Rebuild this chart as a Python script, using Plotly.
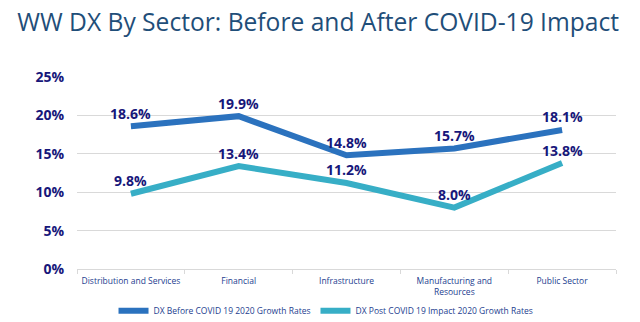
import plotly.graph_objects as go

sectors = [
    "Distribution and Services",
    "Financial",
    "Infrastructure",
    "Manufacturing and<br>Resources",
    "Public Sector",
]
before_covid = [18.6, 19.9, 14.8, 15.7, 18.1]
after_covid = [9.8, 13.4, 11.2, 8.0, 13.8]
series_names = [
    "DX Before COVID 19 2020 Growth Rates",
    "DX Post COVID 19 Impact 2020 Growth Rates",
]
y_ticks = [0, 5, 10, 15, 20, 25]
y_tick_labels = ["0%", "5%", "10%", "15%", "20%", "25%"]

NAVY = "#17177a"
SMALL_TEXT = "#24408f"
BLUE = "#2b72be"
TEAL = "#37aec6"

fig = go.Figure()
for name, vals, color in [
    (series_names[0], before_covid, BLUE),
    (series_names[1], after_covid, TEAL),
]:
    fig.add_trace(go.Scatter(
        x=sectors,
        y=vals,
        name=name,
        mode="lines",
        line=dict(color=color, width=6),
        cliponaxis=False,
    ))
    # value labels above each point
    for cat, v in zip(sectors, vals):
        fig.add_annotation(
            x=cat, y=v, xref="x", yref="y",
            text=f"{v:.1f}%",
            showarrow=False,
            yshift=13,
            font=dict(family="Open Sans", size=14, color=NAVY, weight="bold"),
        )

fig.update_layout(
    width=640,
    height=322,
    margin=dict(l=77, r=24, t=77, b=53),
    paper_bgcolor="white",
    plot_bgcolor="white",
    title=dict(
        text="WW DX By Sector: Before and After COVID-19 Impact",
        font=dict(family="Open Sans", size=24.6, color="#1f4e79"),
        x=0.027, xanchor="left", xref="container",
        y=0.932, yanchor="middle", yref="container",
    ),
    xaxis=dict(
        type="category",
        automargin=False,
        showgrid=False,
        showline=True,
        linecolor="#d9d9d9",
        linewidth=1,
        ticks="outside",
        tickson="boundaries",
        ticklen=4,
        tickcolor="#d9d9d9",
        tickangle=0,
        ticklabelstandoff=4,
        tickfont=dict(family="Open Sans", size=8.5, color=SMALL_TEXT),
        range=[-0.5, 4.5],
    ),
    yaxis=dict(
        range=[0, 25],
        automargin=False,
        tickvals=y_ticks,
        ticktext=y_tick_labels,
        showgrid=True,
        gridcolor="#d9d9d9",
        gridwidth=1,
        zeroline=False,
        ticklabelstandoff=12,
        tickfont=dict(family="Open Sans", size=14, color=NAVY, weight="bold"),
    ),
    legend=dict(
        orientation="h",
        x=0.462, xanchor="center",
        y=0.035, yanchor="middle", yref="container",
        font=dict(family="Open Sans", size=8.5, color=SMALL_TEXT),
        itemwidth=30,
    ),
    showlegend=True,
)

fig.write_html("out.html")
